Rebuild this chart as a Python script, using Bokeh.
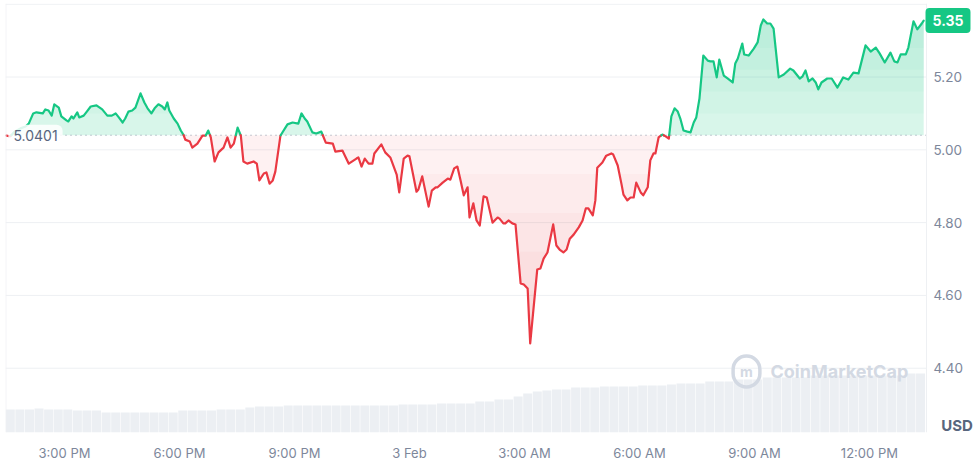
import numpy as np
from datetime import datetime
from bokeh.plotting import figure
from bokeh.models import Range1d, FixedTicker, Span, Label, ColumnDataSource
from bokeh.core.properties import value
from bokeh.embed import file_html
from bokeh.resources import INLINE

# ---------------- data ----------------
# minutes after 3:00 PM, 2 Feb
minutes = [-91, -85, -78, -69, -61, -56, -49, -44, -34, -30, -25, -20, -16, -9, -5,
           3, 6, 11, 14, 20, 23, 30, 34, 41, 50, 59, 67, 74, 80, 85, 91, 95, 100, 106, 111,
           119, 125, 130, 136, 141, 147, 153, 157, 161, 164, 171, 177, 182, 186, 189, 196,
           200, 208, 216, 221, 225, 229, 235, 241, 249, 255, 260, 265, 271, 276, 280, 286,
           296, 301, 305, 312, 316, 321, 326, 330, 338, 349, 357, 366, 371, 376, 380, 388,
           394, 402, 409, 420, 424, 435, 445, 457, 460, 465, 470, 476, 482, 485, 496, 502,
           510, 520, 524, 531, 537, 540, 551, 554, 560, 570, 575, 581, 584, 592, 600, 604,
           610, 615, 620, 625, 631, 634, 640, 645, 650, 656, 661, 670, 678, 681, 687, 690,
           695, 701, 706, 714, 719, 725, 729, 740, 745, 750, 756, 765, 770, 775, 781, 786,
           791, 797, 805, 811, 816, 820, 827, 831, 834, 842, 848, 856, 859, 866, 872, 875,
           881, 886, 891, 895, 902, 906, 913, 917, 922, 925, 930, 936, 941, 946, 950, 955,
           960, 964, 969, 975, 980, 985, 989, 994, 1000, 1007, 1011, 1016, 1021, 1025, 1032,
           1038, 1046, 1050, 1054, 1061, 1064, 1071, 1079, 1085, 1090, 1094, 1100, 1105,
           1110, 1118, 1126, 1136, 1141, 1151, 1155, 1160, 1165, 1171, 1176, 1180, 1185,
           1194, 1201, 1210, 1219, 1227, 1235, 1243, 1254, 1262, 1270, 1276, 1284, 1293,
           1299, 1304, 1309, 1317, 1321, 1329, 1335, 1342, 1345]
price = [5.039, 5.037, 5.050, 5.059, 5.064, 5.072, 5.100, 5.103, 5.100, 5.111, 5.108, 5.094,
         5.125, 5.116, 5.092, 5.081, 5.078, 5.092, 5.086, 5.103, 5.089, 5.094, 5.103, 5.119,
         5.122, 5.111, 5.094, 5.094, 5.100, 5.089, 5.075, 5.086, 5.105, 5.108, 5.116, 5.155,
         5.130, 5.114, 5.100, 5.114, 5.125, 5.119, 5.111, 5.130, 5.108, 5.086, 5.072, 5.053,
         5.042, 5.028, 5.023, 5.006, 5.017, 5.039, 5.039, 5.053, 5.034, 4.968, 4.993, 5.006,
         5.034, 5.006, 5.017, 5.061, 5.039, 4.968, 4.962, 4.968, 4.962, 4.916, 4.935, 4.938,
         4.907, 4.916, 4.940, 5.039, 5.070, 5.075, 5.072, 5.100, 5.086, 5.078, 5.048, 5.045,
         5.050, 5.020, 5.017, 4.995, 4.998, 4.962, 4.976, 4.979, 4.954, 4.976, 4.962, 4.962,
         4.990, 5.015, 4.993, 4.979, 4.932, 4.883, 4.976, 4.984, 4.982, 4.885, 4.891, 4.927,
         4.844, 4.888, 4.897, 4.897, 4.910, 4.921, 4.918, 4.949, 4.954, 4.916, 4.875, 4.897,
         4.814, 4.853, 4.806, 4.792, 4.872, 4.869, 4.800, 4.814, 4.811, 4.798, 4.798, 4.806,
         4.798, 4.795, 4.633, 4.630, 4.619, 4.468, 4.671, 4.674, 4.701, 4.718, 4.795, 4.737,
         4.726, 4.718, 4.726, 4.756, 4.767, 4.787, 4.806, 4.839, 4.839, 4.820, 4.861, 4.951,
         4.965, 4.984, 4.990, 4.987, 4.957, 4.905, 4.877, 4.861, 4.869, 4.869, 4.910, 4.883,
         4.875, 4.897, 4.971, 4.990, 4.990, 5.034, 5.042, 5.037, 5.031, 5.092, 5.114, 5.105,
         5.086, 5.053, 5.050, 5.048, 5.075, 5.089, 5.141, 5.259, 5.245, 5.243, 5.243, 5.199,
         5.248, 5.204, 5.196, 5.185, 5.237, 5.251, 5.292, 5.262, 5.259, 5.278, 5.295, 5.342,
         5.358, 5.347, 5.347, 5.333, 5.199, 5.207, 5.223, 5.218, 5.196, 5.201, 5.218, 5.188,
         5.196, 5.185, 5.166, 5.185, 5.196, 5.196, 5.171, 5.199, 5.193, 5.212, 5.210, 5.287,
         5.270, 5.281, 5.265, 5.240, 5.267, 5.243, 5.240, 5.262, 5.262, 5.281, 5.353, 5.331,
         5.347, 5.355]
open_price = 5.0401
# 15-minute volume bars (relative heights)
volume = [23, 23, 23, 24, 23, 23, 23, 22, 22, 22, 20, 20, 20, 20, 20, 20, 20, 20,
          22, 22, 22, 22, 23, 23, 23, 25, 26, 26, 26, 27, 27, 27, 27, 27, 27, 27,
          27, 27, 27, 27, 27, 28, 28, 28, 28, 29, 29, 29, 29, 31, 31, 33, 33, 36,
          39, 41, 42, 43, 43, 45, 45, 45, 46, 46, 46, 46, 47, 47, 47, 48, 49, 49,
          49, 51, 51, 51, 53, 53, 53, 55, 55, 55, 55, 55, 57, 57, 57, 57, 57, 57,
          57, 57, 57, 57, 59, 59]
tick_minutes = [0, 180, 360, 540, 720, 900, 1080, 1260]
tick_labels = ["3:00 PM", "6:00 PM", "9:00 PM", "3 Feb", "3:00 AM", "6:00 AM", "9:00 AM", "12:00 PM"]
price_ticks = [4.40, 4.60, 4.80, 5.00, 5.20]
price_tick_labels = ["4.40", "4.60", "4.80", "5.00", "5.20"]
grid_ticks = [4.40, 4.60, 4.80, 5.00, 5.20, 5.40]
last_price_text = "5.35"
open_price_text = "5.0401"
currency = "USD"
watermark = "CoinMarketCap"

# ---------------- helpers ----------------
START_MS = (datetime(2025, 2, 2, 15, 0) - datetime(1970, 1, 1)).total_seconds() * 1000
MIN_MS = 60000.0


def to_ms(m):
    return START_MS + np.asarray(m, dtype=float) * MIN_MS


GREEN = "#16c784"
RED = "#ea3943"
GRID = "#eef0f3"
FONT = "Inter"

mins = np.array(minutes, dtype=float)
pr = np.array(price, dtype=float)

X_START, X_DATA_END, X_END = -92.4, 1349.4, 1426.1   # minutes: chart area / price-scale strip

p = figure(width=975, height=466, x_axis_type="datetime", y_axis_location=None,
           x_range=Range1d(to_ms(X_START), to_ms(X_END)),
           y_range=Range1d(4.2234, 5.4020),
           output_backend="svg", toolbar_location=None,
           min_border_left=5, min_border_right=0, min_border_top=3, min_border_bottom=34)
p.background_fill_color = "white"
p.border_fill_color = "white"
p.outline_line_color = None
p.xgrid.visible = False
p.ygrid.visible = False

# horizontal grid lines (chart area only) and side borders
p.segment(x0=to_ms(X_START), x1=to_ms(X_DATA_END), y0=grid_ticks, y1=grid_ticks,
          line_color=GRID, line_width=1)
p.add_layout(Span(location=to_ms(X_START + 0.6), dimension="height", line_color=GRID, line_width=1))
p.add_layout(Span(location=to_ms(X_DATA_END), dimension="height", line_color=GRID, line_width=1))

# volume bars
p.extra_y_ranges = {"vol": Range1d(0, 429)}
n_bins = len(volume)
bin_centers = X_START + 7.5 + 15.0 * np.arange(n_bins)
p.vbar(x=to_ms(bin_centers), top=volume, width=15 * MIN_MS * 0.94, bottom=0,
       y_range_name="vol", fill_color="#eceff3", line_color=None)

# dense copy of the series for filled areas
td = np.union1d(np.linspace(mins[0], mins[-1], 3000), mins)
pdn = np.interp(td, mins, pr)
xd = to_ms(td)
base = np.full_like(pdn, open_price)

p.varea(x=xd, y1=base, y2=np.maximum(pdn, open_price), fill_color=GREEN, fill_alpha=0.17)
p.varea(x=xd, y1=np.minimum(pdn, open_price), y2=base, fill_color=RED, fill_alpha=0.07)
N = 6
for k in range(1, N):
    L = open_price + (5.40 - open_price) * k / N
    p.varea(x=xd, y1=np.full_like(pdn, L), y2=np.maximum(pdn, L), fill_color=GREEN, fill_alpha=0.034)
    L2 = open_price - (open_price - 4.40) * k / N
    p.varea(x=xd, y1=np.minimum(pdn, L2), y2=np.full_like(pdn, L2), fill_color=RED, fill_alpha=0.03)

# baseline (open price), dotted
p.segment(x0=to_ms(X_START), x1=to_ms(X_DATA_END), y0=open_price, y1=open_price,
          line_color="#8d96a8", line_dash="1 4", line_width=1)

# price line coloured above / below the open price
xs, ys, cs = [], [], []
cur_x, cur_y = [mins[0]], [pr[0]]
cur_up = pr[0] >= open_price
for i in range(1, len(mins)):
    up = pr[i] >= open_price
    if up == cur_up:
        cur_x.append(mins[i]); cur_y.append(pr[i])
    else:
        f = (open_price - pr[i - 1]) / (pr[i] - pr[i - 1])
        tx = mins[i - 1] + f * (mins[i] - mins[i - 1])
        cur_x.append(tx); cur_y.append(open_price)
        xs.append(list(to_ms(cur_x))); ys.append(cur_y); cs.append(GREEN if cur_up else RED)
        cur_x, cur_y = [tx, mins[i]], [open_price, pr[i]]
        cur_up = up
xs.append(list(to_ms(cur_x))); ys.append(cur_y); cs.append(GREEN if cur_up else RED)
p.multi_line(xs="xs", ys="ys", line_color="c", line_width=2.2, line_join="round", line_cap="round",
             source=ColumnDataSource(dict(xs=xs, ys=ys, c=cs)))

# price scale (right strip)
p.text(x=[to_ms(X_DATA_END)] * len(price_ticks), y=price_ticks, text=price_tick_labels,
       x_offset=7, text_align="left", text_baseline="middle", text_font=value(FONT),
       text_font_size="13.5px", text_color="#7d879b")

# x axis
xa = p.xaxis[0]
tick_ms = [int(v) for v in to_ms(tick_minutes)]
xa.ticker = FixedTicker(ticks=tick_ms)
xa.major_label_overrides = {tm: lab for tm, lab in zip(tick_ms, tick_labels)}
xa.major_tick_line_color = None
xa.major_tick_out = 0
xa.major_tick_in = 0
xa.minor_tick_line_color = None
xa.minor_tick_out = 0
xa.axis_line_color = None
xa.major_label_standoff = 12
xa.major_label_text_font = FONT
xa.major_label_text_font_size = "13px"
xa.major_label_text_color = "#7d879b"

# open-price label
p.add_layout(Label(x=30, y=open_price, x_units="screen", y_units="data", text=open_price_text,
                   text_align="center", text_baseline="middle", text_font=FONT,
                   text_font_size="14px", text_color="#58667e",
                   background_fill_color="white", background_fill_alpha=0.85,
                   border_radius=6, padding=5))

# last price badge
p.add_layout(Label(x=942.5, y=pr[-1], x_units="screen", y_units="data", text=last_price_text,
                   text_align="center", text_baseline="middle", text_font=FONT,
                   text_font_size="14px", text_font_style="bold", text_color="white",
                   background_fill_color=GREEN, border_radius=4, padding=7))

# currency label
p.add_layout(Label(x=951.5, y=7, x_units="screen", y_units="screen", text=currency,
                   text_align="center", text_baseline="middle", text_font=FONT,
                   text_font_size="15px", text_font_style="bold", text_color="#58667e"))

# watermark
p.add_layout(Label(x=765, y=61, x_units="screen", y_units="screen", text=watermark,
                   text_align="left", text_baseline="middle", text_font=FONT,
                   text_font_size="18px", text_font_style="bold", text_color="#d3d9e3"))
p.add_layout(Label(x=741, y=61, x_units="screen", y_units="screen", text="m",
                   text_align="center", text_baseline="middle", text_font=FONT,
                   text_font_size="14px", text_font_style="bold", text_color="#d3d9e3",
                   border_line_color="#d3d9e3", border_line_width=3.5, border_radius=14,
                   padding=7))

open("out.html", "w").write(file_html(p, INLINE))
